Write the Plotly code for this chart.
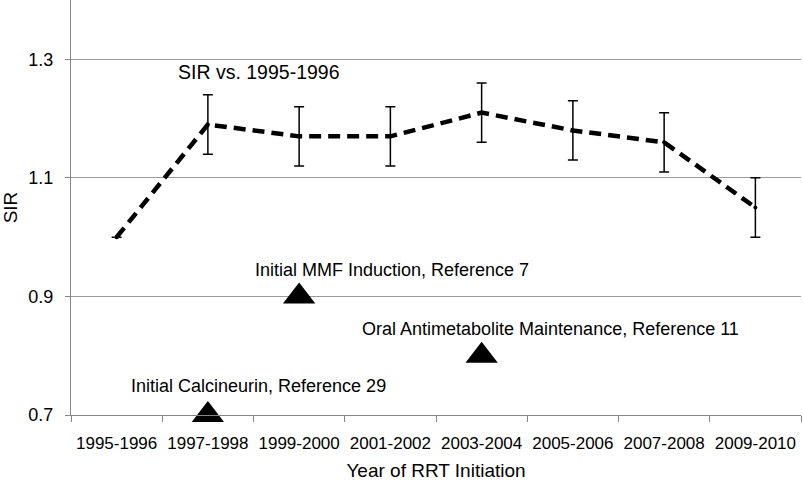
import plotly.graph_objects as go

periods = ["1995-1996", "1997-1998", "1999-2000", "2001-2002",
           "2003-2004", "2005-2006", "2007-2008", "2009-2010"]
sir = [1.00, 1.19, 1.17, 1.17, 1.21, 1.18, 1.16, 1.05]
sir_err = [0, 0.05, 0.05, 0.05, 0.05, 0.05, 0.05, 0.05]

event_periods = ["1997-1998", "1999-2000", "2003-2004"]
event_levels = [0.7, 0.9, 0.8]
event_labels = ["Initial Calcineurin, Reference 29",
                "Initial MMF Induction, Reference 7",
                "Oral Antimetabolite Maintenance, Reference 11"]
series_label = "SIR vs. 1995-1996"

FONT = "Liberation Sans, Arial, sans-serif"

fig = go.Figure()
fig.add_trace(go.Scatter(
    x=periods, y=sir, mode="lines+markers",
    line=dict(color="black", width=4.5, dash="12px,7px"),
    marker=dict(color="black", size=4),
    error_y=dict(type="data", array=sir_err, visible=True,
                 color="black", thickness=1.5, width=5),
    showlegend=False, cliponaxis=False,
))
fig.add_trace(go.Scatter(
    x=event_periods, y=event_levels, mode="markers",
    marker=dict(symbol="triangle-up", size=28, color="black"),
    showlegend=False, cliponaxis=False,
))

# text labels (left-anchored)
ann = [
    (series_label, 0.1440, 1.2785, 19.5),
    (event_labels[1], 0.249, 0.9446, 18),
    (event_labels[2], 0.396, 0.845, 18),
    (event_labels[0], 0.0795, 0.749, 18),
]
for txt, xp, yv, fs in ann:
    fig.add_annotation(text=txt, xref="paper", yref="y", x=xp, y=yv,
                       xanchor="left", yanchor="middle", showarrow=False,
                       font=dict(family=FONT, size=fs, color="black"))

fig.update_layout(
    width=803, height=488,
    margin=dict(l=71, r=2, t=0, b=73),
    plot_bgcolor="white", paper_bgcolor="white",
    font=dict(family=FONT, color="black"),
)
fig.update_xaxes(
    type="category", categoryorder="array", categoryarray=periods,
    range=[-0.5, 7.5], tickson="boundaries", automargin=False,
    showline=True, linecolor="#868686", linewidth=1.3,
    ticks="outside", ticklen=6, tickcolor="#868686", tickwidth=1.3,
    showgrid=False, zeroline=False,
    tickfont=dict(size=17, family=FONT, color="black"),
    ticklabelstandoff=12,
    title=dict(text="Year of RRT Initiation", font=dict(size=19, family=FONT), standoff=12),
)
fig.update_yaxes(
    range=[0.7, 1.4], tickvals=[0.7, 0.9, 1.1, 1.3], ticktext=["0.7", "0.9", "1.1", "1.3"],
    automargin=False,
    showline=True, linecolor="#868686", linewidth=1.3,
    ticks="outside", ticklen=5, tickcolor="#868686", tickwidth=1.3,
    showgrid=True, gridcolor="#9a9a9a", gridwidth=1.3, zeroline=False,
    tickfont=dict(size=18, family=FONT, color="black"),
    ticklabelstandoff=8,
    title=dict(text="SIR", font=dict(size=19, family=FONT), standoff=16),
)

fig.write_html("out.html", config={"displayModeBar": False},
               post_script="document.body.style.margin='0px';")
